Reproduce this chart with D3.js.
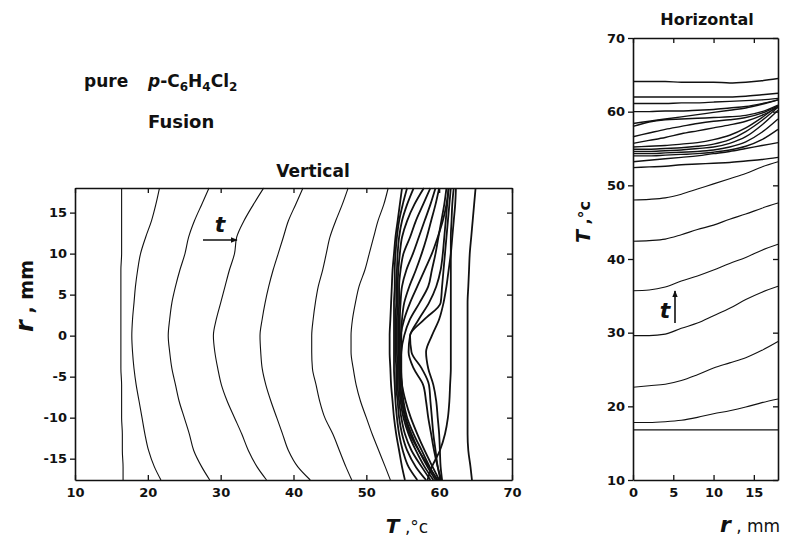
<!DOCTYPE html>
<html>
<head>
<meta charset="utf-8">
<style>
  body { margin: 0; background: #fff; }
  text { font-family: "DejaVu Sans", sans-serif; fill: #111; }
</style>
</head>
<body>
<div id="chart"></div>
<script src="https://d3js.org/d3.v7.min.js"></script>
<script>
const width = 785, height = 540;

// Vertical section: temperature T (°C) at each radial position r (mm)
const vertR = [18, 16, 14, 12, 10, 8, 6, 4, 2, 0, -2, -4, -6, -8, -10, -12, -14, -16, -17.6];
const vertEarly = [
  [16.4, 16.4, 16.4, 16.4, 16.4, 16.3, 16.3, 16.3, 16.3, 16.3, 16.3, 16.3, 16.4, 16.4, 16.4, 16.5, 16.5, 16.6, 16.6],
  [21.6, 21.1, 20.5, 19.7, 19.0, 18.6, 18.3, 18.1, 17.9, 17.8, 17.9, 18.1, 18.4, 18.8, 19.2, 19.6, 20.1, 20.9, 21.8],
  [28.4, 27.4, 26.4, 25.6, 25.1, 24.4, 23.8, 23.3, 23.0, 22.8, 23.0, 23.3, 23.8, 24.3, 25.0, 25.7, 26.3, 27.4, 28.5],
  [35.9, 34.5, 33.2, 32.2, 31.9, 31.2, 30.6, 30.0, 29.4, 29.0, 29.2, 29.6, 30.1, 30.9, 31.9, 32.9, 33.8, 35.0, 36.3],
  [41.3, 40.3, 39.3, 38.6, 37.9, 37.2, 36.6, 36.1, 35.7, 35.4, 35.5, 35.7, 36.2, 36.9, 37.7, 38.5, 39.3, 40.6, 42.3],
  [47.5, 46.7, 45.8, 45.0, 44.5, 44.0, 43.4, 43.0, 42.7, 42.5, 42.5, 42.6, 43.1, 43.6, 44.3, 45.4, 46.3, 47.2, 48.0],
  [53.0, 52.4, 51.6, 51.0, 50.4, 49.8, 49.0, 48.5, 48.1, 47.9, 47.9, 48.2, 48.6, 49.2, 50.0, 50.8, 51.7, 52.6, 53.3]
];
const vertFusion = [
  [54.9, 54.6, 54.3, 54.0, 53.8, 53.6, 53.5, 53.4, 53.3, 53.2, 53.2, 53.3, 53.4, 53.6, 53.8, 54.1, 54.5, 54.9, 55.3],
  [55.6, 55.0, 54.5, 54.2, 54.0, 53.9, 53.9, 53.8, 53.8, 53.8, 53.8, 53.8, 53.9, 54.0, 54.2, 54.5, 55.0, 55.8, 57.0],
  [56.5, 55.6, 54.9, 54.5, 54.3, 54.2, 54.1, 54.1, 54.0, 54.0, 54.0, 54.1, 54.1, 54.3, 54.5, 54.9, 55.6, 56.8, 58.2],
  [57.9, 56.6, 55.6, 54.9, 54.6, 54.4, 54.3, 54.3, 54.2, 54.2, 54.2, 54.3, 54.3, 54.5, 54.8, 55.3, 56.2, 57.6, 58.8],
  [58.8, 57.8, 56.8, 56.0, 55.1, 54.7, 54.5, 54.5, 54.4, 54.4, 54.4, 54.5, 54.5, 54.7, 55.1, 55.8, 56.8, 58.0, 59.2],
  [59.5, 58.8, 58.0, 57.2, 56.4, 55.5, 54.9, 54.7, 54.6, 54.6, 54.6, 54.6, 54.7, 54.9, 55.4, 56.2, 57.2, 58.4, 59.5],
  [60.0, 59.5, 58.9, 58.3, 57.6, 56.8, 55.9, 55.2, 54.9, 54.8, 54.8, 54.8, 54.9, 55.1, 55.6, 56.5, 57.6, 58.7, 59.7],
  [61.0, 60.7, 60.3, 59.9, 59.5, 59.0, 58.5, 57.3, 56.0, 55.2, 54.8, 54.7, 54.9, 55.4, 56.1, 57.0, 58.0, 59.1, 60.0],
  [61.3, 61.0, 60.5, 59.8, 59.0, 58.0, 57.0, 56.0, 55.2, 54.7, 54.5, 54.5, 54.6, 54.9, 55.3, 56.0, 57.2, 58.6, 59.8],
  [61.6, 61.4, 61.2, 61.0, 60.8, 60.6, 60.4, 60.2, 58.0, 56.0, 56.2, 57.6, 58.6, 58.8, 59.0, 59.2, 59.5, 59.8, 60.2],
  [61.3, 61.1, 60.9, 60.7, 60.5, 60.2, 59.6, 58.6, 57.2, 56.0, 55.8, 56.5, 57.8, 58.2, 58.5, 58.9, 59.3, 59.8, 60.3],
  [62.3, 62.2, 62.0, 61.8, 61.6, 61.3, 61.0, 60.6, 60.0, 59.0, 58.2, 58.5, 59.2, 59.6, 59.8, 60.0, 60.1, 60.2, 60.4],
  [62.0, 61.8, 61.7, 61.6, 61.6, 61.6, 61.6, 61.6, 61.6, 61.6, 61.6, 61.6, 61.5, 61.4, 61.2, 60.8, 60.1, 59.0, 58.4],
  [65.0, 64.8, 64.6, 64.4, 64.2, 64.1, 64.0, 63.9, 63.9, 63.9, 63.9, 63.9, 63.9, 63.9, 63.9, 63.9, 64.0, 64.3, 64.5]
];
const vertXTicks = [10, 20, 30, 40, 50, 60, 70];
const vertYTicks = [-15, -10, -5, 0, 5, 10, 15];

// Horizontal section: temperature T (°C) at each radial position r (mm)
const horR = [0, 2, 4, 6, 8, 10, 12, 14, 16, 18];
const horEarly = [
  [16.8, 16.8, 16.8, 16.8, 16.8, 16.8, 16.8, 16.8, 16.8, 16.8],
  [17.8, 17.8, 17.9, 18.1, 18.5, 19.0, 19.4, 19.9, 20.5, 21.0],
  [22.6, 22.8, 23.0, 23.5, 24.3, 25.2, 25.9, 26.6, 27.6, 28.8],
  [29.6, 29.6, 29.8, 30.6, 31.3, 32.3, 33.3, 34.5, 35.5, 36.3],
  [35.7, 35.8, 36.2, 37.0, 37.7, 38.5, 39.4, 40.2, 41.2, 42.0],
  [42.4, 42.5, 42.7, 43.3, 44.0, 44.6, 45.4, 46.1, 46.9, 47.6],
  [48.0, 48.1, 48.3, 48.8, 49.5, 50.2, 50.9, 51.6, 52.5, 53.2]
];
const horFusion = [
  [52.4, 52.5, 52.6, 52.8, 52.9, 53.0, 53.1, 53.3, 53.5, 53.8],
  [53.2, 53.4, 53.6, 53.8, 54.0, 54.3, 54.6, 55.0, 55.4, 55.8],
  [54.0, 54.0, 54.1, 54.2, 54.3, 54.5, 54.8, 55.3, 56.2, 57.6],
  [54.3, 54.3, 54.4, 54.5, 54.6, 54.8, 55.2, 55.9, 57.2, 59.0],
  [54.6, 54.6, 54.7, 54.8, 55.0, 55.2, 55.7, 56.6, 58.2, 60.2],
  [54.9, 54.9, 55.0, 55.1, 55.3, 55.6, 56.2, 57.3, 58.8, 60.6],
  [55.2, 55.3, 55.4, 55.6, 55.8, 56.2, 56.8, 57.8, 59.2, 60.8],
  [55.7, 56.1, 56.5, 57.0, 57.4, 57.8, 58.2, 58.7, 59.5, 60.6],
  [56.6, 57.1, 57.6, 58.0, 58.4, 58.7, 58.9, 59.2, 59.8, 60.8],
  [58.0, 58.6, 58.9, 59.0, 59.1, 59.2, 59.3, 59.5, 60.0, 60.9],
  [58.4, 58.7, 59.0, 59.3, 59.6, 59.9, 60.2, 60.5, 61.0, 61.6],
  [60.0, 60.0, 60.1, 60.1, 60.2, 60.3, 60.5, 60.7, 61.1, 61.6],
  [61.1, 61.1, 61.1, 61.2, 61.2, 61.3, 61.4, 61.5, 61.6, 61.8],
  [62.0, 62.0, 62.0, 62.0, 62.0, 62.0, 62.0, 62.1, 62.3, 62.5],
  [64.1, 64.1, 64.1, 64.0, 64.0, 64.0, 63.9, 64.0, 64.2, 64.5]
];
const horXTicks = [0, 5, 10, 15];
const horYTicks = [10, 20, 30, 40, 50, 60, 70];

const svg = d3.select("#chart").append("svg")
  .attr("width", width)
  .attr("height", height)
  .style("background", "#fff");

svg.append("defs").append("marker")
  .attr("id", "arrow")
  .attr("viewBox", "0 -5 10 10")
  .attr("refX", 9).attr("refY", 0)
  .attr("markerWidth", 7).attr("markerHeight", 7)
  .attr("markerUnits", "userSpaceOnUse")
  .attr("orient", "auto")
  .append("path").attr("d", "M0,-4L10,0L0,4Z").attr("fill", "#111");

// scales
const vx = d3.scaleLinear().domain([10, 70]).range([75, 512]);
const vy = d3.scaleLinear().domain([-17.6, 18]).range([480, 188]);
const hx = d3.scaleLinear().domain([0, 18]).range([633, 778]);
const hy = d3.scaleLinear().domain([10, 70]).range([480, 38]);

function frame(x, y, xt, yt) {
  const [x0, x1] = x.range(), [y0, y1] = y.range();
  const axes = [
    svg.append("g").attr("transform", `translate(0,${y0})`)
      .call(d3.axisBottom(x).tickValues(xt).tickSize(-5).tickSizeOuter(0).tickPadding(8).tickFormat(d => String(d))),
    svg.append("g").attr("transform", `translate(0,${y1})`)
      .call(d3.axisTop(x).tickValues(xt).tickSize(-5).tickSizeOuter(0).tickFormat("")),
    svg.append("g").attr("transform", `translate(${x0},0)`)
      .call(d3.axisLeft(y).tickValues(yt).tickSize(5).tickSizeOuter(0).tickPadding(3).tickFormat(d => String(d))),
    svg.append("g").attr("transform", `translate(${x1},0)`)
      .call(d3.axisRight(y).tickValues(yt).tickSize(-5).tickSizeOuter(0).tickFormat(""))
  ];
  axes.forEach(a => {
    a.attr("font-family", null).attr("font-size", 13).attr("font-weight", "bold");
    a.select(".domain").attr("stroke", "#111").attr("stroke-width", 1.6);
    a.selectAll(".tick line").attr("stroke", "#111").attr("stroke-width", 1.3);
    a.selectAll(".tick text").attr("fill", "#111");
  });
}

frame(vx, vy, vertXTicks, vertYTicks);
frame(hx, hy, horXTicks, horYTicks);

// curves
const vLine = d3.line()
  .x(d => vx(d[1])).y(d => vy(d[0]))
  .curve(d3.curveMonotoneY);
const hLine = d3.line()
  .x(d => hx(d[0])).y(d => hy(d[1]))
  .curve(d3.curveMonotoneX);

const vg = svg.append("g").attr("fill", "none").attr("stroke", "#111").attr("stroke-linejoin", "round");
vg.selectAll("path.early").data(vertEarly).join("path")
  .attr("class", "early")
  .attr("stroke-width", 1.1)
  .attr("d", T => vLine(vertR.map((r, i) => [r, T[i]])));
vg.selectAll("path.fusion").data(vertFusion).join("path")
  .attr("class", "fusion")
  .attr("stroke-width", 1.8)
  .attr("d", T => vLine(vertR.map((r, i) => [r, T[i]])));

const hg = svg.append("g").attr("fill", "none").attr("stroke", "#111").attr("stroke-linejoin", "round");
hg.selectAll("path.early").data(horEarly).join("path")
  .attr("class", "early")
  .attr("stroke-width", 1.1)
  .attr("d", T => hLine(horR.map((r, i) => [r, T[i]])));
hg.selectAll("path.fusion").data(horFusion).join("path")
  .attr("class", "fusion")
  .attr("stroke-width", 1.4)
  .attr("d", T => hLine(horR.map((r, i) => [r, T[i]])));

// time arrows
svg.append("line").attr("x1", 203).attr("y1", 240).attr("x2", 237).attr("y2", 240)
  .attr("stroke", "#111").attr("stroke-width", 1.6).attr("marker-end", "url(#arrow)");
svg.append("text").attr("x", 220).attr("y", 232).attr("text-anchor", "middle")
  .attr("font-size", 22).attr("font-weight", "bold").attr("font-style", "italic").text("t");
svg.append("line").attr("x1", 675).attr("y1", 323).attr("x2", 675).attr("y2", 291)
  .attr("stroke", "#111").attr("stroke-width", 1.6).attr("marker-end", "url(#arrow)");
svg.append("text").attr("x", 665).attr("y", 318).attr("text-anchor", "middle")
  .attr("font-size", 22).attr("font-weight", "bold").attr("font-style", "italic").text("t");

// titles
svg.append("text").attr("x", 84).attr("y", 87).attr("font-size", 17).attr("font-weight", "bold").text("pure");
const formula = svg.append("text").attr("x", 148).attr("y", 87).attr("font-size", 17).attr("font-weight", "bold");
formula.append("tspan").attr("font-style", "italic").text("p");
formula.append("tspan").text("-C");
formula.append("tspan").attr("font-size", 12).attr("dy", 4).text("6");
formula.append("tspan").attr("dy", -4).text("H");
formula.append("tspan").attr("font-size", 12).attr("dy", 4).text("4");
formula.append("tspan").attr("dy", -4).text("Cl");
formula.append("tspan").attr("font-size", 12).attr("dy", 4).text("2");
svg.append("text").attr("x", 148).attr("y", 128).attr("font-size", 18).attr("font-weight", "bold").text("Fusion");
svg.append("text").attr("x", 313).attr("y", 177).attr("text-anchor", "middle")
  .attr("font-size", 17).attr("font-weight", "bold").text("Vertical");
svg.append("text").attr("x", 707).attr("y", 25).attr("text-anchor", "middle")
  .attr("font-size", 16).attr("font-weight", "bold").text("Horizontal");

// axis titles
function label(x, y, rot, big, bigSize, rest, restSize, restWeight) {
  const t = svg.append("text").attr("text-anchor", "middle")
    .attr("transform", `translate(${x},${y})` + (rot ? " rotate(-90)" : ""));
  t.append("tspan").attr("font-size", bigSize).attr("font-weight", "bold").attr("font-style", "italic").text(big);
  t.append("tspan").attr("font-size", restSize).attr("font-weight", restWeight).text(rest);
}
label(407, 533, false, "T", 20, " ,°c", 17, "normal");
label(750, 532, false, "r", 22, " , mm", 17, "normal");
label(33, 296, true, "r", 24, " , mm", 19, "bold");
label(590, 222, true, "T", 19, " ,°c", 16, "bold");
</script>
</body>
</html>
